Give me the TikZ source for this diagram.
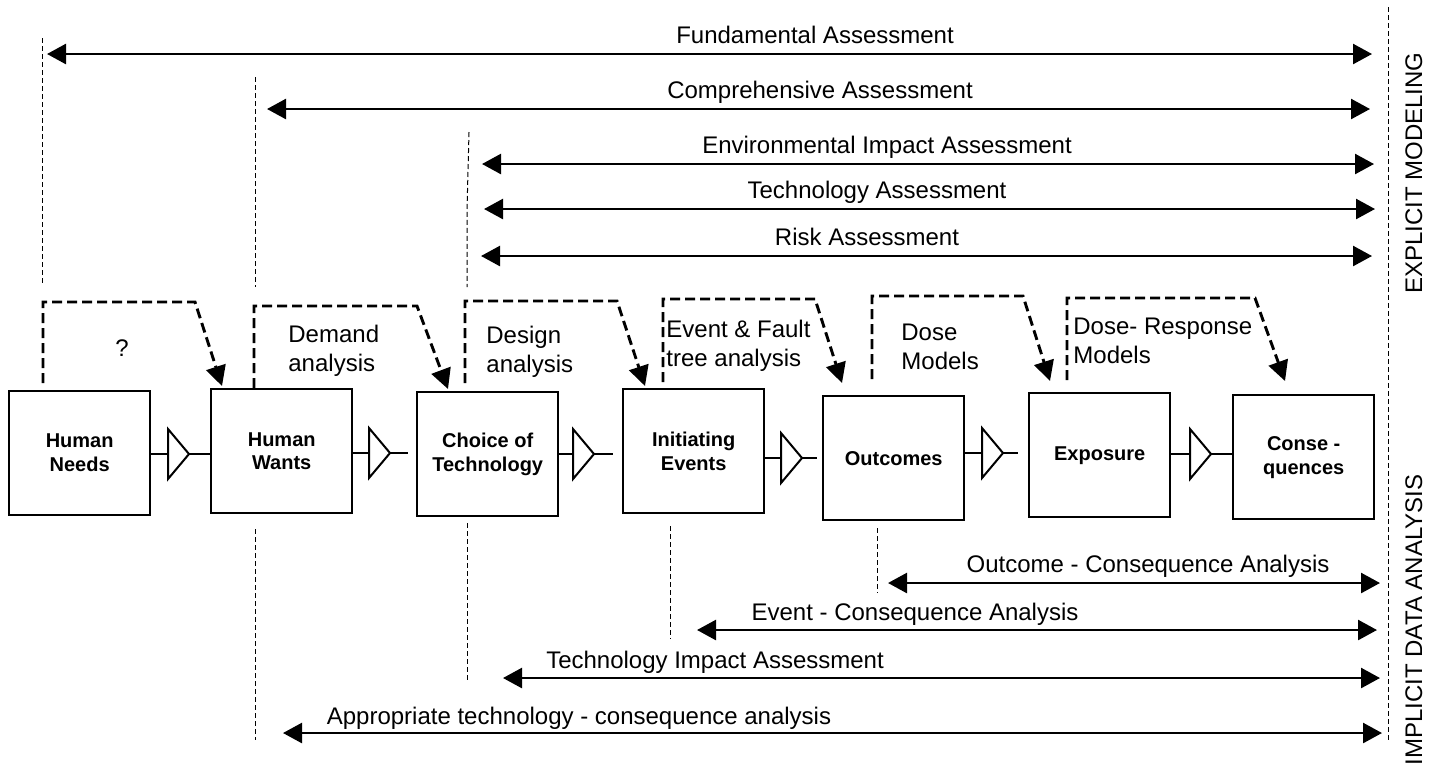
\documentclass[tikz,border=0pt]{standalone}
\usepackage{fontspec}
\setmainfont{Liberation Sans}
\usetikzlibrary{arrows.meta,calc}
\begin{document}
\begin{tikzpicture}[x=0.5pt,y=-0.5pt,
  box/.style={draw,line width=1.2pt,minimum width=70.5pt,minimum height=62pt,inner sep=0pt,anchor=north west,align=center,font=\fontsize{10}{12}\selectfont\bfseries},
  lbl/.style={font=\fontsize{12}{14.4}\selectfont,inner sep=0pt},
  span/.style={line width=1.25pt,{Triangle[length=9.5pt,width=10pt]}-{Triangle[length=9.5pt,width=10pt]}},
  guide/.style={line width=0.5pt,dash pattern=on 2.5pt off 1.5pt},
  fb/.style={line width=1.45pt,dash pattern=on 5pt off 2.5pt,-{Triangle[length=10pt,width=10pt]}},
  wire/.style={line width=1.2pt},
  amp/.pic={\draw[line width=1pt,line join=miter] (0,-25) -- (21,0) -- (0,25) -- cycle;
            \coordinate (-in) at (0,0); \coordinate (-tip) at (21,0);}
]
\fill[white] (0,0) rectangle (1433,768);
\useasboundingbox (0,0) rectangle (1433,768);

% guide lines
\draw[guide] (42,38) -- (42,286);
\draw[guide] (255,77) -- (255,287);
\draw[guide] (469,132) -- (467,210) -- (467,287);
\draw[guide] (255,529) -- (255,740);
\draw[guide] (467,523) -- (467,683);
\draw[guide] (670,526) -- (670,639);
\draw[guide] (877,528) -- (877,593);
\draw[guide] (1388,7) -- (1388,743);

% top spans
\coordinate (fA) at (47,54);   \coordinate (fB) at (1372,54);
\coordinate (cA) at (267,109); \coordinate (cB) at (1370,109);
\coordinate (eA) at (482,164); \coordinate (eB) at (1374,164);
\coordinate (tA) at (484,209); \coordinate (tB) at (1375,209);
\coordinate (rA) at (481,256); \coordinate (rB) at (1372,256);
\draw[span] (fA) -- (fB);
\draw[span] (cA) -- (cB);
\draw[span] (eA) -- (eB);
\draw[span] (tA) -- (tB);
\draw[span] (rA) -- (rB);
\node[lbl,anchor=base] (fL) at (815,43) {Fundamental Assessment};
\node[lbl,anchor=base] (cL) at (820,98) {Comprehensive Assessment};
\node[lbl,anchor=base] (eL) at (887,153) {Environmental Impact Assessment};
\node[lbl,anchor=base] (tL) at (877,198) {Technology Assessment};
\node[lbl,anchor=base] (rL) at (867,245) {Risk Assessment};

% bottom spans
\coordinate (oA) at (888,583); \coordinate (oB) at (1380,583);
\coordinate (vA) at (697,630); \coordinate (vB) at (1377,630);
\coordinate (iA) at (503,678); \coordinate (iB) at (1380,678);
\coordinate (pA) at (283,733); \coordinate (pB) at (1382,733);
\draw[span] (oA) -- (oB);
\draw[span] (vA) -- (vB);
\draw[span] (iA) -- (iB);
\draw[span] (pA) -- (pB);
\node[lbl,anchor=base] (oL) at (1148,572) {Outcome - Consequence Analysis};
\node[lbl,anchor=base] (vL) at (915,620) {Event - Consequence Analysis};
\node[lbl,anchor=base] (iL) at (715,668) {Technology Impact Assessment};
\node[lbl,anchor=base] (pL) at (579,724) {Appropriate technology - consequence analysis};

% boxes
\node[box] (needs)  at (8,390)    {Human\\Needs};
\node[box] (wants)  at (210,388)  {Human\\Wants};
\node[box] (choice) at (416,391)  {Choice of\\Technology};
\node[box] (init)   at (622,388)  {Initiating\\Events};
\node[box] (outc)   at (822,395)  {Outcomes};
\node[box] (expo)   at (1028,392) {Exposure};
\node[box] (cons)   at (1232,394) {Conse -\\quences};

% amplifiers and wires
\pic (a1) at (168,454) {amp};
\pic (a2) at (369,453) {amp};
\pic (a3) at (573,454) {amp};
\pic (a4) at (781,458) {amp};
\pic (a5) at (982,453) {amp};
\pic (a6) at (1190,454) {amp};
\coordinate (w2) at (408,453);
\coordinate (w3) at (613,454);
\coordinate (w4) at (817,458);
\coordinate (w5) at (1018,453);
\draw[wire] (needs.east |- a1-in) -- (a1-in);  \draw[wire] (a1-tip) -- (a1-tip -| wants.west);
\draw[wire] (wants.east |- a2-in) -- (a2-in);  \draw[wire] (a2-tip) -- (w2);
\draw[wire] (choice.east |- a3-in) -- (a3-in); \draw[wire] (a3-tip) -- (w3);
\draw[wire] (init.east |- a4-in) -- (a4-in);   \draw[wire] (a4-tip) -- (w4);
\draw[wire] (outc.east |- a5-in) -- (a5-in);   \draw[wire] (a5-tip) -- (w5);
\draw[wire] (expo.east |- a6-in) -- (a6-in);   \draw[wire] (a6-tip) -- (a6-tip -| cons.west);

% feedback loops
\coordinate (l1s) at (43,383);   \coordinate (l1e) at (222,386);
\coordinate (l2s) at (254,388);  \coordinate (l2e) at (448,389);
\coordinate (l3s) at (465,383);  \coordinate (l3e) at (645,386);
\coordinate (l4s) at (663,382);  \coordinate (l4e) at (842,383);
\coordinate (l5s) at (872,379);  \coordinate (l5e) at (1050,381);
\coordinate (l6s) at (1067,380); \coordinate (l6e) at (1285,381);
\draw[fb] (l1s) |- (195,302) -- (l1e);
\draw[fb] (l2s) |- (417,306) -- (l2e);
\draw[fb] (l3s) |- (617,301) -- (l3e);
\draw[fb] (l4s) |- (815,299) -- (l4e);
\draw[fb] (l5s) |- (1023,296) -- (l5e);
\draw[fb] (l6s) |- (1255,298) -- (l6e);

% loop labels
\node[lbl,anchor=base] (q) at (122,356) {?};
\node[lbl,anchor=north west,align=left] (dem) at (288,325) {Demand\\analysis};
\node[lbl,anchor=north west,align=left] (des) at (486,326) {Design\\analysis};
\node[lbl,anchor=north west,align=left] (eft) at (666,320) {Event \& Fault\\tree analysis};
\node[lbl,anchor=north west,align=left] (dm)  at (901,324) {Dose\\Models};
\node[lbl,anchor=north west,align=left] (drm) at (1073,318) {Dose- Response\\Models};

% side labels
\node[lbl,rotate=90,anchor=base] (em)  at (1422,173) {EXPLICIT MODELING};
\node[lbl,rotate=90,anchor=base] (ida) at (1422,620) {IMPLICIT DATA ANALYSIS};
\end{tikzpicture}
\end{document}
